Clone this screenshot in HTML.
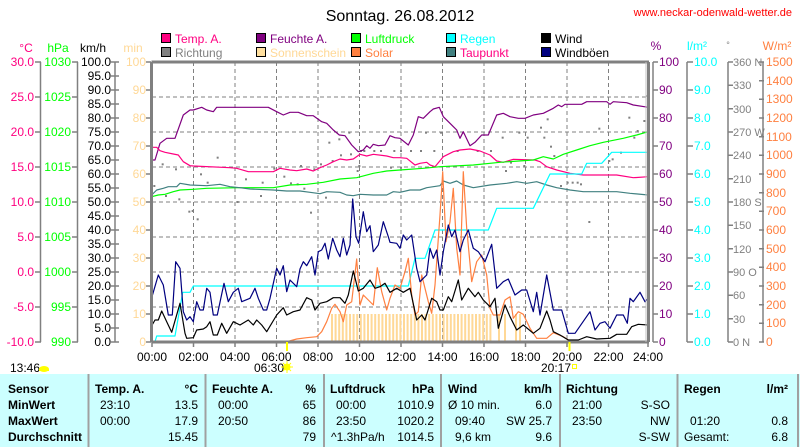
<!DOCTYPE html>
<html><head><meta charset="utf-8"><style>
body{margin:0;background:#fff;}
svg{display:block;font-family:"Liberation Sans",sans-serif;}
</style></head><body>
<svg width="800" height="447" viewBox="0 0 800 447" xmlns="http://www.w3.org/2000/svg">
<rect width="800" height="447" fill="#fff"/>
<text x="400" y="21" font-size="16" text-anchor="middle">Sonntag. 26.08.2012</text>
<text x="792" y="16" font-size="11" text-anchor="end" fill="#ff0000">www.neckar-odenwald-wetter.de</text>

<g font-size="12" stroke="#000" stroke-width="1">
<rect x="161.5" y="33.5" width="9" height="9" fill="#ff0080"/>
<rect x="161.5" y="47.5" width="9" height="9" fill="#808080"/>
<rect x="256.5" y="33.5" width="9" height="9" fill="#800080"/>
<rect x="256.5" y="47.5" width="9" height="9" fill="#ffe0a0"/>
<rect x="351.5" y="33.5" width="9" height="9" fill="#00ff00"/>
<rect x="351.5" y="47.5" width="9" height="9" fill="#ff8040"/>
<rect x="446.5" y="33.5" width="9" height="9" fill="#00ffff"/>
<rect x="446.5" y="47.5" width="9" height="9" fill="#408080"/>
<rect x="541.5" y="33.5" width="9" height="9" fill="#000"/>
<rect x="541.5" y="47.5" width="9" height="9" fill="#000080"/>
</g>
<g font-size="12">
<text x="175" y="43" fill="#ff0080">Temp. A.</text>
<text x="175" y="57" fill="#808080">Richtung</text>
<text x="270" y="43" fill="#800080">Feuchte A.</text>
<text x="270" y="57" fill="#ffd896">Sonnenschein</text>
<text x="365" y="43" fill="#00ff00">Luftdruck</text>
<text x="365" y="57" fill="#ff8040">Solar</text>
<text x="460" y="43" fill="#00ffff">Regen</text>
<text x="460" y="57" fill="#ff0080">Taupunkt</text>
<text x="555" y="43" fill="#000">Wind</text>
<text x="555" y="57" fill="#000">Windböen</text>
</g>

<g font-size="12">
<text x="26" y="52" text-anchor="middle" fill="#ff0080">°C</text>
<text x="58" y="52" text-anchor="middle" fill="#00ff00">hPa</text>
<text x="93" y="52" text-anchor="middle" fill="#000">km/h</text>
<text x="133" y="52" text-anchor="middle" fill="#ffd896">min</text>
<text x="656" y="50" text-anchor="middle" fill="#800080">%</text>
<text x="697" y="50" text-anchor="middle" fill="#00ffff">l/m²</text>
<text x="728" y="48" text-anchor="middle" fill="#808080" font-size="9">°</text>
<text x="777" y="50" text-anchor="middle" fill="#ff8040">W/m²</text>
</g>

<g stroke="#808080" stroke-width="1.5" fill="none">
<line x1="40.5" y1="62" x2="40.5" y2="342"/>
<line x1="77.5" y1="62" x2="77.5" y2="342"/>
<line x1="115" y1="62" x2="115" y2="342"/>
<line x1="653" y1="62" x2="653" y2="342"/>
<line x1="687" y1="62" x2="687" y2="342"/>
<line x1="728" y1="62" x2="728" y2="342"/>
<line x1="763" y1="62" x2="763" y2="342"/>
</g>
<g stroke="#808080" stroke-width="1.5">
<path d="M35 62H41M35 97H41M35 132H41M35 167H41M35 202H41M35 237H41M35 272H41M35 307H41M35 342H41"/>
<path d="M72 62H78M72 132H78M72 202H78M72 272H78M72 342H78M72 97H78M72 167H78M72 237H78M72 307H78"/>
<path d="M111 62H119M111 76H119M111 90H119M111 104H119M111 118H119M111 132H119M111 146H119M111 160H119M111 174H119M111 188H119M111 202H119M111 216H119M111 230H119M111 244H119M111 258H119M111 272H119M111 286H119M111 300H119M111 314H119M111 328H119M111 342H119"/>
<path d="M146 62H151M146 90H151M146 118H151M146 146H151M146 174H151M146 202H151M146 230H151M146 258H151M146 286H151M146 314H151M146 342H151"/>
<path d="M653 62H658M653 90H658M653 118H658M653 146H658M653 174H658M653 202H658M653 230H658M653 258H658M653 286H658M653 314H658M653 342H658"/>
<path d="M687 62H693M687 90H693M687 118H693M687 146H693M687 174H693M687 202H693M687 230H693M687 258H693M687 286H693M687 314H693M687 342H693"/>
<path d="M728 62H733M728 85.3H733M728 108.7H733M728 132H733M728 155.3H733M728 178.7H733M728 202H733M728 225.3H733M728 248.7H733M728 272H733M728 295.3H733M728 318.7H733M728 342H733"/>
<path d="M759 62H764M759 80.7H764M759 99.3H764M759 118H764M759 136.7H764M759 155.3H764M759 174H764M759 192.7H764M759 211.3H764M759 230H764M759 248.7H764M759 267.3H764M759 286H764M759 304.7H764M759 323.3H764M759 342H764"/>
</g>

<g font-size="12" text-anchor="end">
<g fill="#ff0080">
<text x="34" y="66">30.0</text><text x="34" y="101">25.0</text><text x="34" y="136">20.0</text><text x="34" y="171">15.0</text><text x="34" y="206">10.0</text><text x="34" y="241">5.0</text><text x="34" y="276">0.0</text><text x="34" y="311">-5.0</text><text x="34" y="346">-10.0</text>
</g>
<g fill="#00ff00">
<text x="71" y="66">1030</text><text x="71" y="101">1025</text><text x="71" y="136">1020</text><text x="71" y="171">1015</text><text x="71" y="206">1010</text><text x="71" y="241">1005</text><text x="71" y="276">1000</text><text x="71" y="311">995</text><text x="71" y="346">990</text>
</g>
<g fill="#000">
<text x="111" y="66">100.0</text><text x="111" y="80">95.0</text><text x="111" y="94">90.0</text><text x="111" y="108">85.0</text><text x="111" y="122">80.0</text><text x="111" y="136">75.0</text><text x="111" y="150">70.0</text><text x="111" y="164">65.0</text><text x="111" y="178">60.0</text><text x="111" y="192">55.0</text><text x="111" y="206">50.0</text><text x="111" y="220">45.0</text><text x="111" y="234">40.0</text><text x="111" y="248">35.0</text><text x="111" y="262">30.0</text><text x="111" y="276">25.0</text><text x="111" y="290">20.0</text><text x="111" y="304">15.0</text><text x="111" y="318">10.0</text><text x="111" y="332">5.0</text><text x="111" y="346">0.0</text>
</g>
<g fill="#ffd896">
<text x="146" y="66">100</text><text x="146" y="94">90</text><text x="146" y="122">80</text><text x="146" y="150">70</text><text x="146" y="178">60</text><text x="146" y="206">50</text><text x="146" y="234">40</text><text x="146" y="262">30</text><text x="146" y="290">20</text><text x="146" y="318">10</text><text x="146" y="346">0</text>
</g>
</g>
<g font-size="12">
<g fill="#800080">
<text x="659" y="66">100</text><text x="659" y="94">90</text><text x="659" y="122">80</text><text x="659" y="150">70</text><text x="659" y="178">60</text><text x="659" y="206">50</text><text x="659" y="234">40</text><text x="659" y="262">30</text><text x="659" y="290">20</text><text x="659" y="318">10</text><text x="659" y="346">0</text>
</g>
<g fill="#00ffff">
<text x="694" y="66">10.0</text><text x="694" y="94">9.0</text><text x="694" y="122">8.0</text><text x="694" y="150">7.0</text><text x="694" y="178">6.0</text><text x="694" y="206">5.0</text><text x="694" y="234">4.0</text><text x="694" y="262">3.0</text><text x="694" y="290">2.0</text><text x="694" y="318">1.0</text><text x="694" y="346">0.0</text>
</g>
<g fill="#808080" font-size="11">
<text x="733" y="66">360 N</text><text x="733" y="89">330</text><text x="733" y="113">300</text><text x="733" y="136">270 W</text><text x="733" y="159">240</text><text x="733" y="183">210</text><text x="733" y="206">180 S</text><text x="733" y="229">150</text><text x="733" y="253">120</text><text x="733" y="276">90 O</text><text x="733" y="299">60</text><text x="733" y="323">30</text><text x="733" y="346">0 N</text>
</g>
<g fill="#ff8040">
<text x="766" y="66">1500</text><text x="766" y="85">1400</text><text x="766" y="103">1300</text><text x="766" y="122">1200</text><text x="766" y="141">1100</text><text x="766" y="159">1000</text><text x="766" y="178">900</text><text x="766" y="197">800</text><text x="766" y="215">700</text><text x="766" y="234">600</text><text x="766" y="253">500</text><text x="766" y="271">400</text><text x="766" y="290">300</text><text x="766" y="309">200</text><text x="766" y="327">100</text><text x="766" y="346">0</text>
</g>
</g>

<g stroke="#808080" stroke-width="1" stroke-dasharray="4 3" fill="none">
<path d="M193.5 62V342M235 62V342M276.5 62V342M318 62V342M359.5 62V342M401 62V342M442.5 62V342M484 62V342M525.5 62V342M567 62V342M608.5 62V342"/>
<path d="M152 97H648M152 132H648M152 167H648M152 202H648M152 237H648M152 272H648M152 307H648"/>
</g>

<g stroke="#ffd896" fill="none">
<line x1="331" y1="328" x2="493" y2="328" stroke-width="28" stroke-dasharray="2 1.6"/>
<line x1="498" y1="328" x2="500" y2="328" stroke-width="28"/>
<line x1="504" y1="328" x2="506" y2="328" stroke-width="28"/>
<line x1="515" y1="328" x2="517" y2="328" stroke-width="28"/>
<line x1="519" y1="328" x2="521" y2="328" stroke-width="28"/>
</g>

<g fill="#808080" transform="translate(140,55) scale(0.33333)">
<rect x="40" y="390" width="6" height="6"/><rect x="65" y="325" width="6" height="6"/><rect x="75" y="420" width="6" height="6"/><rect x="105" y="340" width="6" height="6"/><rect x="115" y="430" width="6" height="6"/><rect x="145" y="467" width="6" height="6"/><rect x="155" y="465" width="6" height="6"/><rect x="170" y="490" width="6" height="6"/><rect x="180" y="355" width="6" height="6"/><rect x="200" y="380" width="6" height="6"/><rect x="230" y="305" width="6" height="6"/><rect x="290" y="438" width="6" height="6"/><rect x="315" y="370" width="6" height="6"/><rect x="360" y="420" width="6" height="6"/><rect x="365" y="380" width="6" height="6"/><rect x="400" y="338" width="6" height="6"/><rect x="430" y="362" width="6" height="6"/><rect x="450" y="382" width="6" height="6"/><rect x="470" y="385" width="6" height="6"/><rect x="480" y="330" width="6" height="6"/><rect x="490" y="398" width="6" height="6"/><rect x="510" y="470" width="6" height="6"/><rect x="520" y="340" width="6" height="6"/><rect x="540" y="325" width="6" height="6"/><rect x="555" y="425" width="6" height="6"/><rect x="565" y="260" width="6" height="6"/><rect x="575" y="315" width="6" height="6"/><rect x="595" y="250" width="6" height="6"/><rect x="600" y="298" width="6" height="6"/><rect x="625" y="230" width="6" height="6"/><rect x="630" y="295" width="6" height="6"/><rect x="650" y="345" width="6" height="6"/><rect x="655" y="330" width="6" height="6"/><rect x="660" y="285" width="6" height="6"/><rect x="670" y="285" width="6" height="6"/><rect x="700" y="285" width="6" height="6"/><rect x="720" y="285" width="6" height="6"/><rect x="760" y="285" width="6" height="6"/><rect x="780" y="335" width="6" height="6"/>
</g>
<g fill="#808080" transform="translate(390,55) scale(0.33333)">
<rect x="0" y="335" width="6" height="6"/><rect x="30" y="285" width="6" height="6"/><rect x="60" y="285" width="6" height="6"/><rect x="90" y="285" width="6" height="6"/><rect x="105" y="230" width="6" height="6"/><rect x="130" y="285" width="6" height="6"/><rect x="150" y="230" width="6" height="6"/><rect x="200" y="285" width="6" height="6"/><rect x="260" y="285" width="6" height="6"/><rect x="300" y="285" width="6" height="6"/><rect x="335" y="245" width="6" height="6"/><rect x="345" y="345" width="6" height="6"/><rect x="360" y="320" width="6" height="6"/><rect x="385" y="230" width="6" height="6"/><rect x="400" y="330" width="6" height="6"/><rect x="410" y="245" width="6" height="6"/><rect x="450" y="215" width="6" height="6"/><rect x="460" y="245" width="6" height="6"/><rect x="470" y="190" width="6" height="6"/><rect x="480" y="272" width="6" height="6"/><rect x="490" y="300" width="6" height="6"/><rect x="510" y="390" width="6" height="6"/><rect x="530" y="380" width="6" height="6"/><rect x="545" y="380" width="6" height="6"/><rect x="560" y="380" width="6" height="6"/><rect x="570" y="385" width="6" height="6"/><rect x="595" y="498" width="6" height="6"/><rect x="625" y="218" width="6" height="6"/><rect x="655" y="315" width="6" height="6"/><rect x="665" y="310" width="6" height="6"/><rect x="690" y="290" width="6" height="6"/><rect x="715" y="185" width="6" height="6"/><rect x="730" y="245" width="6" height="6"/><rect x="740" y="225" width="6" height="6"/><rect x="760" y="195" width="6" height="6"/><rect x="770" y="120" width="6" height="6"/>
</g>

<g fill="none" stroke-width="1.2" stroke-linejoin="round">
<polyline stroke="#800080" points="151.7,160 155,160 160,143.3 166.7,138.3 175,138.3 183.3,115 190,110 193.3,110 201.7,107.3 206.7,110 213.3,111.7 216.7,107.3 268.3,107.3 276.7,111.7 283.3,115 290,112.3 298.3,112.3 306.7,115.7 313.3,115.7 321.7,121.7 326.7,123.3 333.3,130 339.3,135 345,135.7 351.7,145 358.3,151.7 363.3,150 366.7,145.7 370,148.3 373.3,144.3 378.3,145.7 385,145 390,135.7 395,137.7 400,138.3 408.3,145 413.3,135 418.3,116.7 423.3,118.3 430,111.7 433.3,109 439.3,107.3 443.3,116.7 450,123.3 456.7,130 460,138.3 463.3,131.7 470,145.7 475,142.3 481.7,135 488.3,135 496.7,115 503.3,113.3 510,116.7 518.3,118.3 525,118.3 533.3,115 543.3,113.3 553.3,108.3 558.3,105 561.7,106.7 565,104.3 581.7,104.3 586.7,101.7 606.7,101.7 610,104.3 613.3,101.7 626.7,102.7 633.3,105 648.3,107.3"/>
<polyline stroke="#ff0080" points="151.7,147.3 156.7,147.3 160,150.7 165,152.3 173.3,154 178.3,155 183.3,161.7 190,165.7 193.3,166 230,167.7 236.7,168.3 248.3,171.7 273.3,171.7 280,168.3 290,170 296.7,170.7 306.7,169 313.3,171 320,167.7 326.7,165 333.3,161.7 340,159 346.7,160 353.3,159 360,154.3 366.7,156 373.3,154.3 386.7,156 393.3,157.7 400,157.7 406.7,158.3 415,165 420,163.3 426.7,162.3 430,165 435,166.7 443.3,156.7 453.3,151.7 460,150 470,149 480,151 490,155 496.7,161 503.3,162.3 513.3,159.3 535,160 540,161.7 546.7,166.7 556.7,170 570,173.3 583.3,175 616.7,175 633.3,177.7 648.3,176.7"/>
<polyline stroke="#00ff00" points="151.7,196.7 158.3,195 165,194.3 173.3,191.7 180,190 193.3,189.3 206.7,188.3 240,187.7 273.3,187.7 290,185 306.7,184.3 323.3,182.3 340,179 356.7,177.7 373.3,173.3 386.7,171 400,170 423.3,168.3 440,166.7 473.3,165 500,162.3 533.3,160 543.3,156.7 553.3,159 563.3,154.3 576.7,150 590,145.7 603.3,142.3 623.3,138.3 636.7,135 648.3,131.7"/>
<polyline stroke="#408080" points="151.7,195 156.7,190 163.3,188.3 168.3,186.7 176.7,186.7 180,183.3 190,185 206.7,185.7 220,184.3 230,186.7 240,187.7 250,189 273.3,190 286.7,191 300,191 310,192.3 320,193.7 326.7,191.7 340,192.3 346.7,195 353.3,195.7 360,194.3 373.3,195 386.7,195 393.3,191.7 400,192.3 410,190 420,190 426.7,187.7 440,185.7 443.3,181 450,183.3 456.7,181 463.3,185 473.3,187.7 490,185 506.7,183.3 516.7,181.7 526.7,183.3 536.7,181.7 546.7,185 556.7,187.7 570,190 583.3,191.7 600,191.7 616.7,191.7 630,193.3 648.3,195"/>
<polyline stroke="#00ffff" points="155,341.7 156.7,336 175,336 182.7,292.3 190,292.3 193.3,286 408.3,286 415,258.3 425,258.3 435,230 488.3,230 496.7,208.3 533.3,208.3 550,174 581.7,174 586.7,163.3 601.7,163.3 611.7,152.3 648.3,152.3"/>
<polyline stroke="#ff8040" points="286.7,341.7 296.7,339 306.7,337.7 316.7,336.7 321.7,331.7 326.7,321.7 331.7,308.3 335,304.3 340,311.7 343.3,321.7 346.7,305 351.7,301.7 356.7,259 360,305 363.3,295 373.3,305 377.3,267.7 381.7,291.7 386.7,310 390,298.3 395,285 400,288.3 405,271.7 408.3,258.3 411.7,295 415,315 418.3,311.7 421.7,275 425,288.3 428.3,301.7 431.7,313.3 435,285 440,215 442.7,171.7 446,241.7 450,221.7 453.3,188.3 456.7,248.3 460,275 463.3,171.7 466.7,228.3 471.7,281.7 476.7,261.7 481.7,255 486.7,275 490,308.3 493.3,315 500,315 505,300 510,296.7 513.3,318.3 518.3,311.7 523.3,314.3 530,328.3 536.7,338.3 546.7,338.3 553.3,332.7 563.3,336.7 570,341"/>
<polyline stroke="#000080" points="151.7,297.7 158.3,275 163.3,285 168.3,315 172.3,315 175.7,261.7 180,268.3 183.3,311.7 186.7,320 190,316.7 193.3,321.7 196.7,301.7 200,310 203.3,310 206.7,288.3 210,292.3 213.3,315 217.3,315 224,283.3 228.3,301.7 233.3,292.3 238.3,288.3 241.7,301.7 250,298.3 255,288.3 258.3,298.3 263.3,310 266.7,310 270,298.3 276.7,268.3 280,275 283.3,265.7 286.7,291.7 290,280 296.7,286.7 300,269 303.3,261.7 306.7,265.7 311.7,256.7 315,275 318.3,251.7 321.7,250 325,243.3 328.3,259 332.7,238.3 336.7,250 340,256.7 343.3,238.3 346.7,255 350,245 352.7,199 356,236.7 358.7,243.3 363.3,211.7 366.7,231.7 370,225.7 373.3,251.7 378.3,245 383.3,221.7 388.3,236.7 390,242.3 396.7,243.3 400,248.3 403.3,235 406.7,240 411.7,235 416.7,268.3 420,281.7 423.3,278.3 426.7,275 430,248.3 433.3,258.3 436.7,250 440,275 443.3,251.7 448.3,225 451.7,236.7 455,230 460,251.7 463.3,240 468.3,230 473.3,248.3 478.3,251.7 485,261.7 491.7,244.3 496.7,288.3 503.3,281.7 508.3,279 515,295 521.7,290 526.7,290 533.3,311.7 536.7,292.3 540,315 546.7,275 553.3,310 561.7,310 568.3,333.3 575,333.3 590,311.7 595,330 600,323.3 605,321.7 610,328.3 616.7,315 623.3,315 627.3,323.3 630,298.3 633.3,301.7 640,292.3 645,301.7 648.3,298.3"/>
<polyline stroke="#000" points="151.7,325.7 155,320 158.3,320 161.7,311 166.7,321.7 171.7,332.3 180,303.3 185,333.3 186.7,338.3 193.3,337.7 196.7,330 203.3,329 206.7,326.7 210,321.7 213.3,335 217.3,335 221.7,323.3 226.7,333.3 233.3,321.7 240,325 248.3,320 253.3,325 256.7,320 261.7,325 266.7,331.7 276.7,315 283.3,307.7 286.7,315 293.3,311.7 300,310 306.7,297.7 311.7,300 315,310 320,303.3 326.7,301.7 333.3,297.7 340,297.7 345,303.3 348.3,295 353.3,271 358.3,291 363.3,288.3 370,280 375,288.3 380,286.7 385,283.3 390,292.3 396.7,288.3 403.3,292.3 410,288.3 416.7,320 421.7,315 425,320 431.7,298.3 436.7,301.7 440,310 443.3,310 448.3,296.7 451.7,301.7 458.3,280 461.7,300 468.3,288.3 475,296.7 478.3,292.3 483.3,300 490,306.7 495,298.3 498.3,328.3 505,305 510,316.7 516.7,330 523.3,325 533.3,333.3 540,328.3 546.7,311 550,320 553.3,331.7 560,335 568.3,340 578.3,340 586.7,336.7 596.7,339 610,338.3 616.7,334.3 626.7,334.3 631.7,326.7 638.3,324.3 648.3,325"/>
</g>

<path d="M151.5 62V342M151.5 62H649M648.5 62V342M151.5 342H649" stroke="#808080" stroke-width="3" fill="none"/>
<path d="M646 62V342" stroke="#c0c0c0" stroke-width="1"/>
<g stroke="#808080" stroke-width="1.5">
<path d="M152 342V347M193.5 342V347M235 342V347M276.5 342V347M318 342V347M359.5 342V347M401 342V347M442.5 342V347M484 342V347M525.5 342V347M567 342V347M608.5 342V347M648 342V347"/>
</g>
<line x1="287" y1="342" x2="287" y2="351" stroke="#ffff00" stroke-width="2"/>
<line x1="569.5" y1="342" x2="569.5" y2="351" stroke="#ffff00" stroke-width="2"/>

<g font-size="12" text-anchor="middle">
<text x="152" y="361">00:00</text><text x="193.5" y="361">02:00</text><text x="235" y="361">04:00</text><text x="276.5" y="361">06:00</text><text x="318" y="361">08:00</text><text x="359.5" y="361">10:00</text><text x="401" y="361">12:00</text><text x="442.5" y="361">14:00</text><text x="484" y="361">16:00</text><text x="525.5" y="361">18:00</text><text x="567" y="361">20:00</text><text x="608.5" y="361">22:00</text><text x="648" y="361">24:00</text>
</g>
<g font-size="12">
<text x="10" y="372">13:46</text>
<text x="254" y="372">06:30</text>
<text x="541" y="372">20:17</text>
</g>
<ellipse cx="44" cy="369" rx="5" ry="3" fill="#ffff00"/><rect x="39" y="369" width="10" height="2" fill="#ffff00"/>
<circle cx="287" cy="367" r="3.5" fill="#ffff00"/>
<g stroke="#ffff00" stroke-width="1"><path d="M281 367H293M287 361V373M283 363L291 371M291 363L283 371"/></g>
<rect x="572.5" y="364.5" width="4" height="4" fill="none" stroke="#ffff00"/>

<rect x="0" y="374" width="800" height="73" fill="#ccffff"/>
<g stroke="#a0a0a0" stroke-width="2">
<path d="M88.5 374V447M205.5 374V447M324 374V447M441 374V447M560 374V447M677.5 374V447"/>
</g>
<line x1="798" y1="374" x2="798" y2="447" stroke="#a0a0a0" stroke-width="2"/>
<g font-size="12" font-weight="bold">
<text x="8" y="393">Sensor</text><text x="8" y="409">MinWert</text><text x="8" y="425">MaxWert</text><text x="8" y="441">Durchschnitt</text>
<text x="95" y="393">Temp. A.</text><text x="198" y="393" text-anchor="end">°C</text>
<text x="212" y="393">Feuchte A.</text><text x="316" y="393" text-anchor="end">%</text>
<text x="330" y="393">Luftdruck</text><text x="434" y="393" text-anchor="end">hPa</text>
<text x="448" y="393">Wind</text><text x="552" y="393" text-anchor="end">km/h</text>
<text x="566" y="393">Richtung</text>
<text x="684" y="393">Regen</text><text x="788" y="393" text-anchor="end">l/m²</text>
</g>
<g font-size="12">
<text x="100" y="409">23:10</text><text x="198" y="409" text-anchor="end">13.5</text>
<text x="100" y="425">00:00</text><text x="198" y="425" text-anchor="end">17.9</text>
<text x="198" y="441" text-anchor="end">15.45</text>
<text x="218" y="409">00:00</text><text x="316" y="409" text-anchor="end">65</text>
<text x="218" y="425">20:50</text><text x="316" y="425" text-anchor="end">86</text>
<text x="316" y="441" text-anchor="end">79</text>
<text x="336" y="409">00:00</text><text x="434" y="409" text-anchor="end">1010.9</text>
<text x="336" y="425">23:50</text><text x="434" y="425" text-anchor="end">1020.2</text>
<text x="331" y="441">^1.3hPa/h</text><text x="434" y="441" text-anchor="end">1014.5</text>
<text x="448" y="409">Ø 10 min.</text><text x="552" y="409" text-anchor="end">6.0</text>
<text x="455" y="425">09:40</text><text x="552" y="425" text-anchor="end">SW 25.7</text>
<text x="455" y="441">9,6 km</text><text x="552" y="441" text-anchor="end">9.6</text>
<text x="572" y="409">21:00</text><text x="670" y="409" text-anchor="end">S-SO</text>
<text x="572" y="425">23:50</text><text x="670" y="425" text-anchor="end">NW</text>
<text x="670" y="441" text-anchor="end">S-SW</text>
<text x="690" y="425">01:20</text><text x="788" y="425" text-anchor="end">0.8</text>
<text x="684" y="441">Gesamt:</text><text x="788" y="441" text-anchor="end">6.8</text>
</g>
</svg>
</body></html>
